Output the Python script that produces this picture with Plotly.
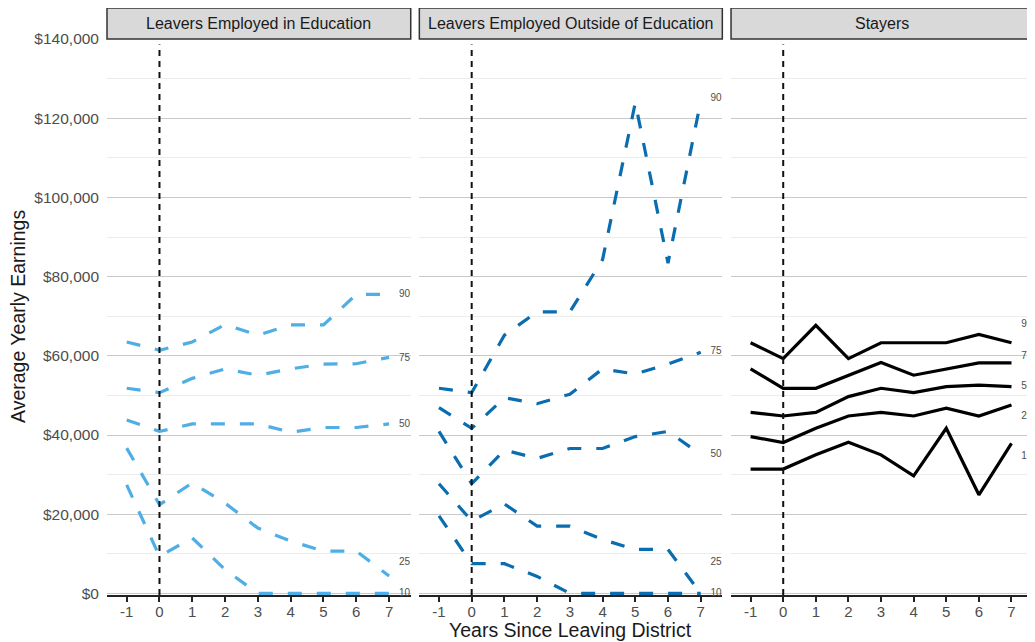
import plotly.graph_objects as go

YEARS = [-1, 0, 1, 2, 3, 4, 5, 6, 7]
YEAR_LABELS = ["-1", "0", "1", "2", "3", "4", "5", "6", "7"]
PERCENTILES = ["10", "25", "50", "75", "90"]
PANELS = ["Leavers Employed in Education",
          "Leavers Employed Outside of Education",
          "Stayers"]

EDU_P10 = [27400, 9400, 14000, 6000, 0, 0, 0, 0, 0]
EDU_P25 = [36700, 22400, 27900, 22800, 16500, 13200, 10700, 10700, 4400]
EDU_P50 = [43800, 40900, 42800, 42800, 42800, 40700, 41900, 41900, 42800]
EDU_P75 = [51800, 50700, 54300, 56700, 55100, 56700, 57900, 58000, 59600]
EDU_P90 = [63500, 61400, 63500, 67900, 65200, 67800, 67800, 75500, 75500]

OUT_P10 = [19600, 7500, 7500, 4300, 0, 0, 0, 0, 0]
OUT_P25 = [27700, 18300, 22600, 17000, 17000, 13600, 11100, 11100, 0]
OUT_P50 = [40900, 27700, 36200, 34100, 36600, 36600, 39600, 40900, 35100]
OUT_P75 = [46900, 41700, 49400, 47900, 50300, 56700, 55400, 57900, 60900]
OUT_P90 = [51800, 50700, 65200, 71100, 71100, 84300, 123900, 83400, 124300]

STAY_P10 = [31400, 31400, 35000, 38200, 35000, 29700, 41700, 24900, 37900]
STAY_P25 = [39600, 38100, 41700, 44800, 45700, 44800, 46800, 44800, 47600]
STAY_P50 = [45700, 44800, 45700, 49700, 51800, 50700, 52200, 52600, 52200]
STAY_P75 = [56700, 51800, 51800, 55100, 58300, 55100, 56700, 58200, 58200]
STAY_P90 = [63300, 59300, 67700, 59300, 63300, 63300, 63300, 65400, 63300]

# y positions of the percentile labels at the right end of each panel
LABEL_Y_EDU = [0, 7900, 42550, 59300, 75500]
LABEL_Y_OUT = [0, 7700, 35100, 61200, 125000]
LABEL_Y_STAY = [34700, 44600, 52200, 59900, 68000]
LABEL_X = 7.3

Y_TICKS = [0, 20000, 40000, 60000, 80000, 100000, 120000, 140000]
Y_TICK_LABELS = ["$0", "$20,000", "$40,000", "$60,000", "$80,000",
                 "$100,000", "$120,000", "$140,000"]
EVENT_YEAR = 0

FONT = "Liberation Sans, Arial, sans-serif"

panel_series = [
    [EDU_P10, EDU_P25, EDU_P50, EDU_P75, EDU_P90],
    [OUT_P10, OUT_P25, OUT_P50, OUT_P75, OUT_P90],
    [STAY_P10, STAY_P25, STAY_P50, STAY_P75, STAY_P90],
]
panel_labels_y = [LABEL_Y_EDU, LABEL_Y_OUT, LABEL_Y_STAY]
panel_color = ["#4FAEE5", "#0A6DAF", "#000000"]
panel_dash = ["14px,15px", "14px,15px", "solid"]
domains = [[0.0, 0.328], [0.3373, 0.6645], [0.6739, 1.0]]

fig = go.Figure()

for i in range(3):
    xa = "x" if i == 0 else f"x{i+1}"
    ya = "y" if i == 0 else f"y{i+1}"
    for series in panel_series[i]:
        fig.add_trace(go.Scatter(
            x=YEARS, y=series, mode="lines", xaxis=xa, yaxis=ya,
            line=dict(color=panel_color[i], width=3.2, dash=panel_dash[i]),
            showlegend=False, hoverinfo="skip"))
    fig.add_trace(go.Scatter(
        x=[LABEL_X] * len(PERCENTILES), y=panel_labels_y[i],
        text=PERCENTILES, mode="text", textposition="middle right",
        textfont=dict(family=FONT, size=10, color="#4d4d4d"),
        xaxis=xa, yaxis=ya, showlegend=False, hoverinfo="skip",
        cliponaxis=False))

# page body has an 8px margin: plot area is placed so that it lands at
# x 107..1033, y 39..595 in the browser window
layout = dict(
    width=1035, height=642,
    paper_bgcolor="white", plot_bgcolor="white",
    margin=dict(l=99, r=10, t=31, b=55),
    showlegend=False,
    font=dict(family=FONT, color="#4d4d4d"),
)

for i in range(3):
    xk = "xaxis" if i == 0 else f"xaxis{i+1}"
    yk = "yaxis" if i == 0 else f"yaxis{i+1}"
    ya = "y" if i == 0 else f"y{i+1}"
    xa = "x" if i == 0 else f"x{i+1}"
    layout[xk] = dict(
        domain=domains[i], anchor=ya, range=[-1.6, 7.66],
        tickmode="array", tickvals=YEARS, ticktext=YEAR_LABELS,
        ticks="outside", ticklen=5, tickwidth=1.5, tickcolor="#222",
        showline=True, linecolor="#222", linewidth=2,
        showgrid=False, zeroline=False, layer="below traces",
        ticklabelstandoff=-3,
        tickfont=dict(family=FONT, size=15, color="#4d4d4d"),
    )
    layout[yk] = dict(
        domain=[0, 1], anchor=xa, range=[-400, 140000],
        tickmode="array", tickvals=Y_TICKS, ticktext=Y_TICK_LABELS,
        showticklabels=(i == 0), ticks="",
        showgrid=True, gridcolor="#c9c9c9", gridwidth=1.3,
        minor=dict(dtick=10000, tick0=0, showgrid=True,
                   gridcolor="#ececec", gridwidth=1),
        zeroline=False, showline=False,
        ticklabelstandoff=7,
        tickfont=dict(family=FONT, size=15.5, color="#4d4d4d"),
    )
    if i > 0:
        layout[yk]["matches"] = "y"

fig.update_layout(**layout)

strip_top = 1 + 31 / 556
for i in range(3):
    xa = "x" if i == 0 else f"x{i+1}"
    yd = ("y" if i == 0 else f"y{i+1}") + " domain"
    fig.add_shape(type="rect", xref="paper", yref="paper",
                  x0=domains[i][0], x1=domains[i][1], y0=1.0, y1=strip_top,
                  fillcolor="#d9d9d9", line=dict(color="#333333", width=1.5),
                  layer="above")
    fig.add_annotation(text=PANELS[i], xref="paper", yref="paper",
                       x=(domains[i][0] + domains[i][1]) / 2,
                       y=(1.0 + strip_top) / 2, showarrow=False,
                       xanchor="center", yanchor="middle",
                       font=dict(family=FONT, size=16, color="#1a1a1a"))
    fig.add_shape(type="line", xref=xa, yref=yd,
                  x0=EVENT_YEAR, x1=EVENT_YEAR, y0=0, y1=0.99,
                  line=dict(color="#111111", width=2, dash="6px,5px"),
                  layer="above")

fig.add_annotation(text="Average Yearly Earnings", xref="paper", yref="paper",
                   x=-0.0961, y=0.5, textangle=-90, showarrow=False,
                   xanchor="center", yanchor="middle",
                   font=dict(family=FONT, size=19.5, color="#1a1a1a"))
fig.add_annotation(text="Years Since Leaving District", xref="paper", yref="paper",
                   x=0.501, y=-0.063, showarrow=False,
                   xanchor="center", yanchor="middle",
                   font=dict(family=FONT, size=19.5, color="#1a1a1a"))

fig.write_html("out.html")
